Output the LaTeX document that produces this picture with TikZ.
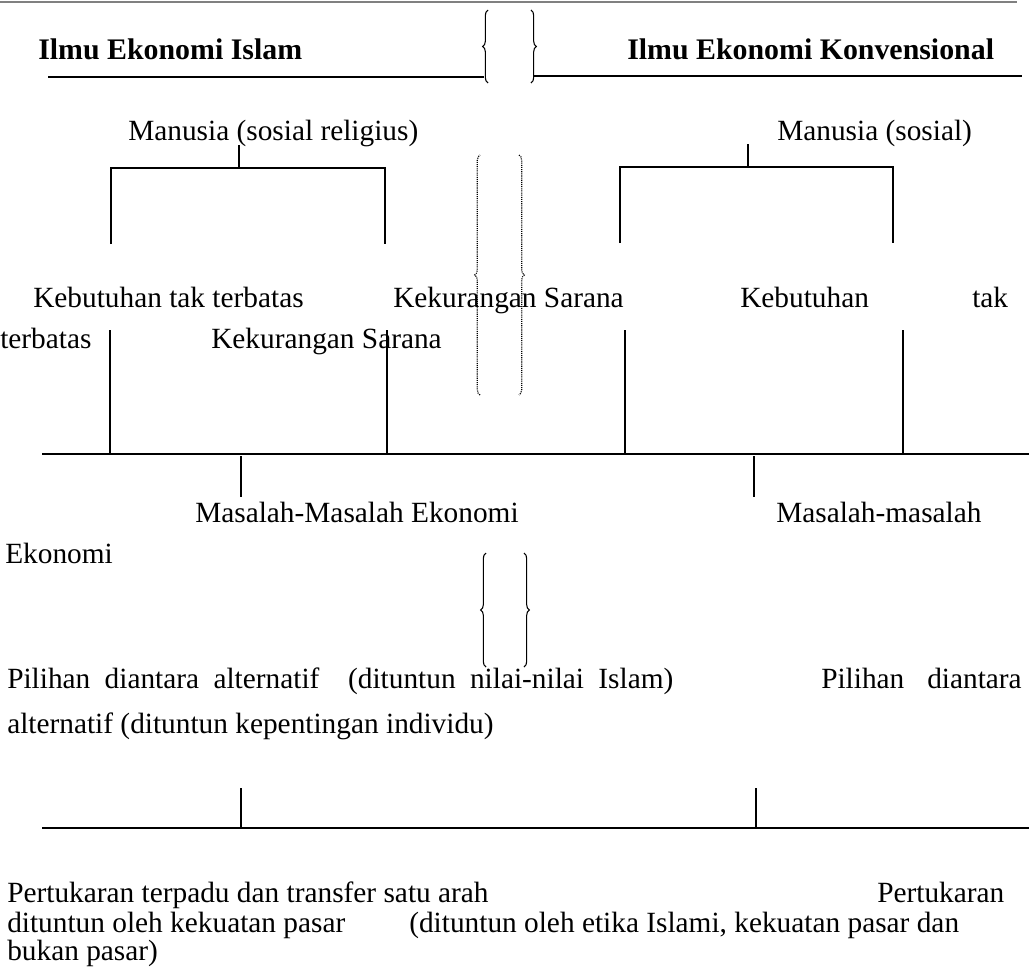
\documentclass[tikz,border=0pt]{standalone}
\usepackage{fontspec}
\setmainfont{Liberation Serif}
\usetikzlibrary{decorations.pathreplacing}
\begin{document}
\begin{tikzpicture}[x=0.75pt,y=-0.75pt,
  txt/.style={anchor=base west, inner sep=0pt, font=\fontsize{22}{26}\selectfont},
  ttl/.style={anchor=base west, inner sep=0pt, font=\fontsize{22.4}{26}\selectfont\bfseries},
  tline/.style={line width=0.9pt},
  hline/.style={line width=1.7pt},
  brc/.style={decorate, decoration={brace, amplitude=4pt}, line width=0.8pt},
  dbrc/.style={decorate, decoration={brace, amplitude=4pt}, line width=0.9pt, dash pattern=on 0.8pt off 0.8pt}]
\useasboundingbox (0,0) rectangle (1029,978);

% top rule
\coordinate (r0) at (0,2);
\coordinate (r1) at (1017,2);
\draw[gray, line width=1.1pt] (r0) -- (r1);

% titles
\node[ttl] (tl) at (38,60) {Ilmu Ekonomi Islam};
\node[ttl] (tr) at (627,60) {Ilmu Ekonomi Konvensional};
\coordinate (ul0) at (48,77);  \coordinate (ul1) at (484,77);
\coordinate (ur0) at (533,76); \coordinate (ur1) at (1022,76);
\draw[hline] (ul0) -- (ul1);
\draw[hline] (ur0) -- (ur1);
\coordinate (b1t) at (488,10); \coordinate (b1b) at (488,83);
\coordinate (b2t) at (531,10); \coordinate (b2b) at (531,83);
\draw[brc] (b1b) -- (b1t);
\draw[brc] (b2t) -- (b2b);

% left tree
\node[txt] (ml) at (128,140) {Manusia (sosial religius)};
\coordinate (ls0) at (239,145); \coordinate (ls1) at (239,168);
\coordinate (la) at (111,244); \coordinate (lb) at (111,168);
\coordinate (lc) at (385,168); \coordinate (ld) at (385,244);
\draw[tline] (ls0) -- (ls1);
\draw[tline] (la) -- (lb) -- (lc) -- (ld);

% right tree
\node[txt] (mr) at (777,140) {Manusia (sosial)};
\coordinate (rs0) at (748,144); \coordinate (rs1) at (748,167);
\coordinate (ra) at (620,243); \coordinate (rb) at (620,167);
\coordinate (rc) at (893,167); \coordinate (rd) at (893,243);
\draw[tline] (rs0) -- (rs1);
\draw[tline] (ra) -- (rb) -- (rc) -- (rd);

% dotted braces
\coordinate (d1t) at (480,155); \coordinate (d1b) at (480,395);
\coordinate (d2t) at (519,155); \coordinate (d2b) at (519,395);
\draw[dbrc] (d1b) -- (d1t);
\draw[dbrc] (d2t) -- (d2b);

% first paragraph
\node[txt] (k1) at (33,307) {Kebutuhan tak terbatas};
\node[txt] (k2) at (393,307) {Kekurangan Sarana};
\node[txt] (k3) at (740,307) {Kebutuhan};
\node[txt] (k4) at (972,307) {tak};
\node[txt] (k5) at (0,348) {terbatas};
\node[txt] (k6) at (211,348) {Kekurangan Sarana};

% verticals to the long line
\coordinate (v1a) at (110,330); \coordinate (v1b) at (110,454);
\coordinate (v2a) at (387,330); \coordinate (v2b) at (387,454);
\coordinate (v3a) at (625,330); \coordinate (v3b) at (625,454);
\coordinate (v4a) at (903,330); \coordinate (v4b) at (903,454);
\draw[tline] (v1a) -- (v1b);
\draw[tline] (v2a) -- (v2b);
\draw[tline] (v3a) -- (v3b);
\draw[tline] (v4a) -- (v4b);
\coordinate (h1a) at (42,454); \coordinate (h1b) at (1029,454);
\draw[hline] (h1a) -- (h1b);
\coordinate (s1a) at (241,456); \coordinate (s1b) at (241,497);
\coordinate (s2a) at (754,456); \coordinate (s2b) at (754,497);
\draw[tline] (s1a) -- (s1b);
\draw[tline] (s2a) -- (s2b);

% masalah
\node[txt] (ma) at (195,522) {Masalah-Masalah Ekonomi};
\node[txt] (mb) at (776,522) {Masalah-masalah};
\node[txt] (mc) at (5,563) {Ekonomi};

% lower braces
\coordinate (e1t) at (486,553); \coordinate (e1b) at (486,667);
\coordinate (e2t) at (524,553); \coordinate (e2b) at (524,667);
\draw[brc] (e1b) -- (e1t);
\draw[brc] (e2t) -- (e2b);

% pilihan
\node[txt] (pa) at (7,688) {\makebox[499.5pt][s]{Pilihan diantara alternatif\ \ (dituntun nilai-nilai Islam)}};
\node[txt] (pb) at (821,688) {Pilihan};
\node[txt, anchor=base east] (pc) at (1022,688) {diantara};
\node[txt] (pd) at (7,733) {alternatif (dituntun kepentingan individu)};

% lower line
\coordinate (t1a) at (241,788); \coordinate (t1b) at (241,828);
\coordinate (t2a) at (756,788); \coordinate (t2b) at (756,828);
\draw[tline] (t1a) -- (t1b);
\draw[tline] (t2a) -- (t2b);
\coordinate (h2a) at (42,828); \coordinate (h2b) at (1029,828);
\draw[hline] (h2a) -- (h2b);

% pertukaran
\node[txt] (q1) at (7,902) {Pertukaran terpadu dan transfer satu arah};
\node[txt] (q2) at (877,902) {Pertukaran};
\node[txt] (q3) at (7,932) {dituntun oleh kekuatan pasar};
\node[txt] (q4) at (409,932) {(dituntun oleh etika Islami, kekuatan pasar dan};
\node[txt] (q5) at (7,960) {bukan pasar)};
\end{tikzpicture}
\end{document}
